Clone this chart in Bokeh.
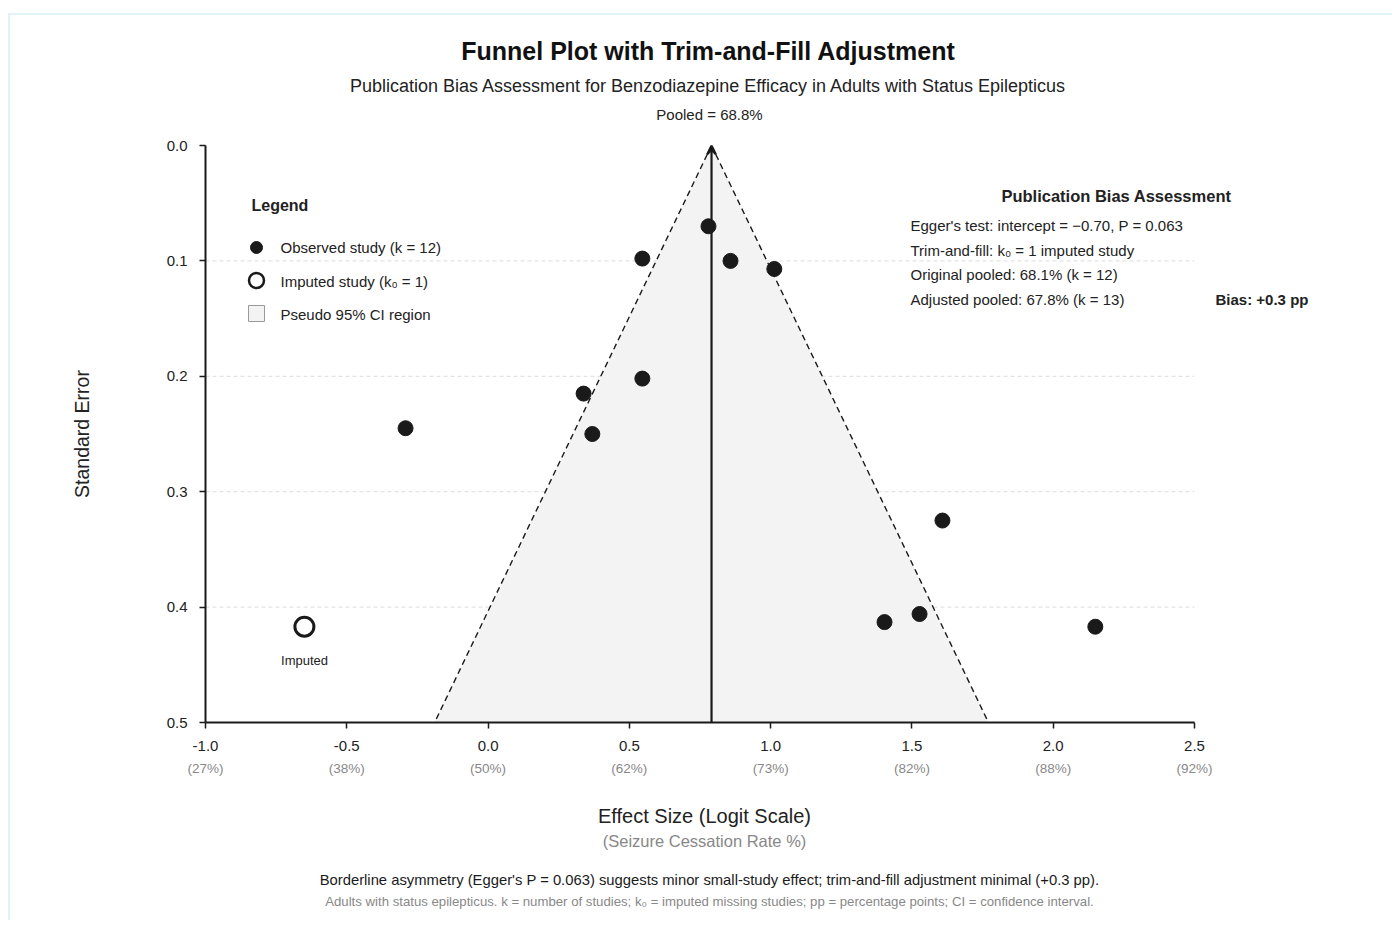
import math
from bokeh.plotting import figure
from bokeh.layouts import column
from bokeh.models import Range1d, Label, Arrow, VeeHead, FixedTicker, LinearAxis
from bokeh.embed import file_html
from bokeh.resources import INLINE

# ---------------- data ----------------
obs_logit = [0.780, 0.546, 0.858, 1.013, 0.546, 0.338, 0.369, -0.292, 1.608, 1.403, 1.527, 2.149]
obs_se = [0.070, 0.098, 0.100, 0.107, 0.202, 0.215, 0.250, 0.245, 0.325, 0.413, 0.406, 0.417]
imp_logit = [-0.650]
imp_se = [0.417]
pooled_pct = 68.8
se_max = 0.5
z95 = 1.96

x_ticks = [-1.0, -0.5, 0.0, 0.5, 1.0, 1.5, 2.0, 2.5]
x_pct_labels = ["(27%)", "(38%)", "(50%)", "(62%)", "(73%)", "(82%)", "(88%)", "(92%)"]
y_ticks = [0.0, 0.1, 0.2, 0.3, 0.4, 0.5]

title = "Funnel Plot with Trim-and-Fill Adjustment"
subtitle = "Publication Bias Assessment for Benzodiazepine Efficacy in Adults with Status Epilepticus"
legend_items = ["Observed study (k = 12)", "Imputed study (k\u2080 = 1)", "Pseudo 95% CI region"]
box_title = "Publication Bias Assessment"
box_lines = [
    "Egger's test: intercept = \u22120.70, P = 0.063",
    "Trim-and-fill: k\u2080 = 1 imputed study",
    "Original pooled: 68.1% (k = 12)",
    "Adjusted pooled: 67.8% (k = 13)",
]
bias_text = "Bias: +0.3 pp"
x_label = "Effect Size (Logit Scale)"
x_sublabel = "(Seizure Cessation Rate %)"
y_label = "Standard Error"
footer1 = "Borderline asymmetry (Egger's P = 0.063) suggests minor small-study effect; trim-and-fill adjustment minimal (+0.3 pp)."
footer2 = "Adults with status epilepticus. k = number of studies; k\u2080 = imputed missing studies; pp = percentage points; CI = confidence interval."

pooled = math.log(pooled_pct / (100 - pooled_pct))

# ---------------- layout ----------------
FONT = "Liberation Sans"
XMIN, XMAX = -1.0, 2.5
PX_L, PX_R, PX_T, PX_B = 205, 1194, 145, 722
LEFT, TOP = 10, 15          # page position of the content box
W = 1382
MAIN_TOP = 20
MAIN_BOTTOM = 70
BOTTOM_END = 920
DARK = "#1a1a1a"
TXT = "#222222"
GREY = "#888888"


def dx(px):
    return XMIN + (px - PX_L) * (XMAX - XMIN) / (PX_R - PX_L)


def dy(py):
    return (py - PX_T) * se_max / (PX_B - PX_T)


x_range = Range1d(XMIN, dx(LEFT + W))


def blank_fig(y_top, y_bot):
    f = figure(width=W, height=y_bot - y_top, output_backend="svg", toolbar_location=None,
               x_range=x_range, y_range=Range1d(y_bot, y_top),
               x_axis_type=None, y_axis_type=None,
               min_border_left=PX_L - LEFT, min_border_right=0,
               min_border_top=0, min_border_bottom=0)
    f.outline_line_color = None
    f.grid.visible = False
    return f


def lab(fig, text, x, y, size="13px", color=TXT, bold=False, align="center", angle=0):
    fig.add_layout(Label(x=x, y=y, text=text, text_font=FONT, text_font_size=size,
                         text_color=color, text_font_style="bold" if bold else "normal",
                         text_align=align, text_baseline="middle", angle=angle))


# ---- top: titles ----
top = blank_fig(TOP, PX_T - MAIN_TOP)
lab(top, title, dx(708), 50, size="25px", color="#111111", bold=True)
lab(top, subtitle, dx(708), 85, size="18px")
lab(top, f"Pooled = {pooled_pct:.1f}%", dx(709), 114, size="15px")

# ---- main plot ----
p = figure(
    width=W, height=MAIN_TOP + (PX_B - PX_T) + MAIN_BOTTOM, output_backend="svg",
    toolbar_location=None, x_range=x_range, y_range=Range1d(se_max, 0.0),
    min_border_left=PX_L - LEFT, min_border_right=0,
    min_border_top=MAIN_TOP, min_border_bottom=MAIN_BOTTOM,
)
p.outline_line_color = None
p.grid.visible = False

xa = p.xaxis[0]
ya = p.yaxis[0]
for ax in (xa, ya):
    ax.axis_line_width = 2
    ax.axis_line_color = DARK
    ax.major_tick_line_color = DARK
    ax.major_tick_line_width = 1.5
    ax.major_tick_out = 6
    ax.major_tick_in = 0
    ax.minor_tick_line_color = None
    ax.major_label_text_font = FONT
    ax.major_label_text_font_size = "15px"
    ax.major_label_text_color = TXT

xa.ticker = FixedTicker(ticks=x_ticks)
xa.major_label_overrides = {t: f"{t:.1f}" for t in x_ticks}
xa.major_label_standoff = 12
xa.bounds = (XMIN, XMAX)

ya.ticker = FixedTicker(ticks=y_ticks)
ya.major_label_overrides = {t: f"{t:.1f}" for t in y_ticks}
ya.major_label_standoff = 12
ya.axis_label = y_label
ya.axis_label_text_font = FONT
ya.axis_label_text_font_size = "19.5px"
ya.axis_label_text_font_style = "normal"
ya.axis_label_text_color = TXT
ya.axis_label_standoff = 71

pct_axis = LinearAxis(ticker=FixedTicker(ticks=x_ticks),
                      major_label_overrides={t: s for t, s in zip(x_ticks, x_pct_labels)})
pct_axis.axis_line_color = None
pct_axis.major_tick_line_color = None
pct_axis.minor_tick_line_color = None
pct_axis.major_tick_out = 0
pct_axis.major_tick_in = 0
pct_axis.major_label_standoff = 7
pct_axis.major_label_text_font = FONT
pct_axis.major_label_text_font_size = "13.5px"
pct_axis.major_label_text_color = GREY
p.add_layout(pct_axis, "below")

# dashed horizontal grid lines
grid_y = y_ticks[1:-1]
p.segment(x0=[XMIN] * len(grid_y), y0=grid_y, x1=[XMAX] * len(grid_y), y1=grid_y,
          line_color="#dcdcdc", line_dash="4 3", line_width=1)

# funnel region
xl = pooled - z95 * se_max
xr = pooled + z95 * se_max
p.patch([pooled, xr, xl], [0.0, se_max, se_max], fill_color="#f3f3f3", line_color=None)
p.line([pooled, xl], [0.0, se_max], line_color=DARK, line_dash="6 4", line_width=1.4)
p.line([pooled, xr], [0.0, se_max], line_color=DARK, line_dash="6 4", line_width=1.4)

# pooled line with arrowhead
p.add_layout(Arrow(x_start=pooled, y_start=se_max, x_end=pooled, y_end=0.0,
                   line_color=DARK, line_width=2.2,
                   end=VeeHead(size=9, line_color=DARK, line_width=2)))

# studies
p.scatter(obs_logit, obs_se, size=15, fill_color=DARK, line_color=DARK)
p.scatter(imp_logit, imp_se, size=19, fill_color="white", line_color=DARK, line_width=3)


def mlab(text, px, py, **kw):
    lab(p, text, dx(px), dy(py), **kw)


mlab("Imputed", 304, 660, size="13px")

# legend (drawn by hand)
mlab("Legend", 251, 205, size="16px", bold=True, align="left")
p.scatter([dx(256)], [dy(247)], size=12, fill_color=DARK, line_color=DARK)
p.scatter([dx(256)], [dy(280)], size=15, fill_color="white", line_color=DARK, line_width=2.5)
p.rect([dx(256)], [dy(313)], width=16, height=16, width_units="screen", height_units="screen",
       fill_color="#f3f3f3", line_color="#999999", line_width=1)
for s, py in zip(legend_items, [247, 281, 314]):
    mlab(s, 280, py, size="15px", align="left")

# bias assessment box
mlab(box_title, 1116, 195, size="16.5px", bold=True)
for s, py in zip(box_lines, [225, 250, 274, 299]):
    mlab(s, 910, py, size="15px", align="left")
mlab(bias_text, 1215, 299, size="15px", bold=True, align="left")

# ---- bottom: axis title and footnotes ----
b_top = PX_B + MAIN_BOTTOM
bot = blank_fig(b_top, BOTTOM_END)
lab(bot, x_label, dx(704), 815, size="20px")
lab(bot, x_sublabel, dx(704), 840, size="16.5px", color=GREY)
lab(bot, footer1, dx(709), 879, size="14.8px", color=DARK)
lab(bot, footer2, dx(709), 901, size="13.2px", color=GREY)

layout = column(top, p, bot, spacing=0)
layout.styles = {"margin-left": "8px", "margin-top": "13px",
                 "border-top": "2px solid #e0f3f7", "border-left": "2px solid #e0f3f7"}

open("out.html", "w").write(file_html(layout, INLINE))
